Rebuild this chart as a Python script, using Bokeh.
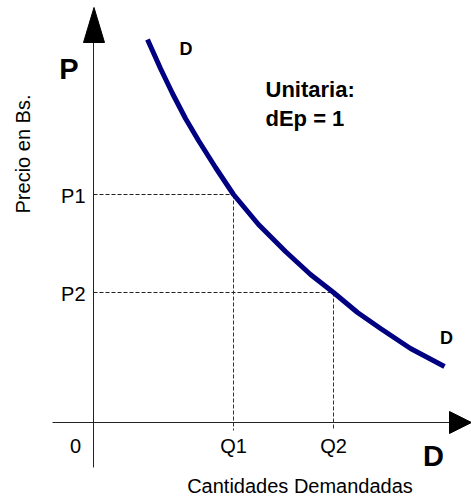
from bokeh.plotting import figure
from bokeh.models import Range1d
from bokeh.core.properties import value
from bokeh.embed import file_html
from bokeh.resources import INLINE
import math

# ---- data (units: arbitrary; origin at axes crossing)
curve_q = [54, 67, 79, 92, 105, 122, 140, 165, 192, 217, 240, 264, 287, 317, 351]
curve_p = [383, 354, 329, 304, 282, 255, 228, 198, 171, 148, 130, 110, 94, 74, 56]
q_points = [140, 240]          # Q1, Q2
p_points = [228, 130]          # P1, P2
q_labels = ["Q1", "Q2"]
p_labels = ["P1", "P2"]

FONT = "Liberation Sans"

p = figure(width=471, height=498, output_backend="svg", toolbar_location=None,
           x_range=Range1d(-93, 378), y_range=Range1d(-76, 422),
           min_border=0, min_border_left=0, min_border_right=0,
           min_border_top=0, min_border_bottom=0)
p.xaxis.visible = False
p.yaxis.visible = False
p.grid.visible = False
p.outline_line_color = None
p.background_fill_color = "white"
p.border_fill_color = "white"

# axes lines
p.line([0, 0], [-45, 380], line_color="#222222", line_width=1)
p.line([-41, 356], [0, 0], line_color="#222222", line_width=1)
# arrow heads
p.patch([-10, 11, 0.5], [380, 380, 415], fill_color="black", line_color="black", line_width=1)
p.patch([356, 356, 378], [11, -11, 0], fill_color="black", line_color="black", line_width=1)

# dashed guides
for q, pp in zip(q_points, p_points):
    p.line([0, q], [pp, pp], line_color="#222222", line_width=1, line_dash="4 2")
    p.line([q, q], [pp, -8], line_color="#333333", line_width=1, line_dash="4 2")

# demand curve
p.line(curve_q, curve_p, line_color="#000080", line_width=5, line_cap="butt", line_join="round")

def txt(x, y, s, size, bold=False, align="left", angle=0.0):
    fs = float(size.replace("px", ""))
    off = 0.4 * fs
    if angle:
        x = x - off
    else:
        y = y + off
    p.text(x=[x], y=[y], text=[s], text_font=value(FONT), text_font_size=size,
           text_font_style="bold" if bold else "normal", text_align=align,
           text_baseline="alphabetic", text_color="black", angle=angle)

# tick-like labels
for q, lab in zip(q_points, q_labels):
    txt(q, -31, lab, "20px", align="center")
for pp, lab in zip(p_points, p_labels):
    txt(-8, pp - 9, lab, "20px", align="right")
txt(-18, -31, "0", "20px", align="center")

# titles
txt(206.5, -71, "Cantidades Demandadas", "20px", align="center")
txt(-63, 268.5, "Precio en Bs.", "20px", align="center", angle=math.pi / 2)
txt(-24.5, 342, "P", "29px", bold=True, align="center")
txt(340, -45, "D", "29px", bold=True, align="center")
txt(92.5, 366, "D", "18px", bold=True, align="center")
txt(353, 77, "D", "18px", bold=True, align="center")
txt(172, 324, "Unitaria:", "22px", bold=True)
txt(172, 295, "dEp = 1", "22px", bold=True)

open("out.html", "w").write(file_html(p, INLINE))
